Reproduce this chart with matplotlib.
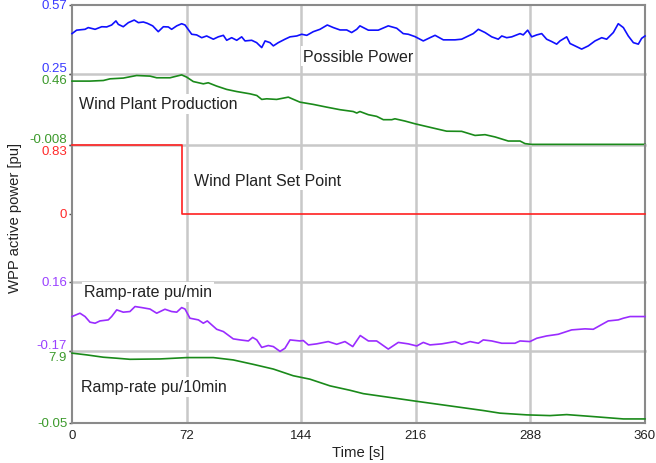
import matplotlib
matplotlib.use("Agg")
import matplotlib.pyplot as plt

plt.rcParams['font.family'] = ['Liberation Sans', 'DejaVu Sans']

# ---- data -------------------------------------------------------------
x_ticks = [0, 72, 144, 216, 288, 360]

possible_t = [0, 2.9, 8.2, 10.2, 14.5, 18.7, 21.8, 24.9, 27.6, 29.1, 32.2, 35.4, 39.1, 41.7,
              44.8, 47.3, 50.7, 54.2, 57.4, 60.5, 62.6, 65.8, 68.9, 71.0, 75.2, 78.3, 81.5,
              84.6, 88.8, 91.9, 95.1, 97.2, 100.3, 103.5, 106.6, 108.7, 112.9, 116.0, 119.2,
              121.3, 124.4, 126.5, 129.6, 133.8, 137.0, 141.2, 144.3, 147.5, 151.6, 155.8,
              160.4, 164.2, 168.4, 172.6, 175.7, 178.9, 180.9, 186.2, 192.4, 198.7, 204.0,
              208.1, 211.3, 215.5, 220.7, 224.9, 228.1, 233.3, 240.6, 244.8, 249.0, 252.1,
              255.3, 259.5, 263.7, 267.8, 270.0, 273.1, 276.3, 279.4, 281.5, 283.5, 286.3,
              288.8, 292.0, 295.1, 298.2, 301.4, 304.5, 306.6, 310.8, 312.9, 316.0, 320.2,
              324.4, 328.6, 332.8, 335.9, 340.1, 343.2, 346.4, 349.5, 352.7, 355.8, 357.9, 360]
possible_v = [0.437, 0.453, 0.457, 0.465, 0.457, 0.469, 0.468, 0.477, 0.496, 0.480, 0.469,
              0.488, 0.500, 0.488, 0.491, 0.485, 0.473, 0.446, 0.469, 0.468, 0.457, 0.473,
              0.483, 0.477, 0.434, 0.431, 0.418, 0.426, 0.411, 0.422, 0.429, 0.406, 0.418,
              0.406, 0.422, 0.403, 0.406, 0.395, 0.372, 0.403, 0.395, 0.380, 0.395, 0.411,
              0.422, 0.426, 0.434, 0.429, 0.446, 0.457, 0.477, 0.465, 0.454, 0.454, 0.442,
              0.457, 0.473, 0.453, 0.453, 0.473, 0.462, 0.437, 0.434, 0.423, 0.403, 0.418,
              0.429, 0.408, 0.408, 0.411, 0.426, 0.437, 0.457, 0.442, 0.422, 0.411, 0.426,
              0.418, 0.422, 0.431, 0.437, 0.431, 0.453, 0.422, 0.431, 0.437, 0.411, 0.400,
              0.388, 0.403, 0.422, 0.391, 0.380, 0.365, 0.380, 0.403, 0.418, 0.411, 0.442,
              0.483, 0.465, 0.426, 0.395, 0.388, 0.415, 0.426]

production_t = [0, 11.3, 19.7, 23.9, 32.2, 40.6, 49.0, 53.2, 61.6, 65.8, 68.9, 72.1, 76.2,
                82.5, 85.6, 90.9, 97.2, 103.5, 111.8, 116.1, 119.2, 122.3, 128.6, 135.9,
                143.2, 151.6, 160.0, 168.4, 176.7, 178.9, 180.9, 186.2, 191.4, 195.6, 200.9,
                202.9, 209.2, 215.5, 226.0, 235.4, 244.8, 253.2, 259.5, 265.8, 274.1, 281.5,
                284.6, 288.4, 360]
production_v = [0.412, 0.412, 0.416, 0.427, 0.432, 0.449, 0.445, 0.434, 0.434, 0.445, 0.453,
                0.438, 0.409, 0.394, 0.401, 0.379, 0.357, 0.343, 0.328, 0.317, 0.291, 0.295,
                0.291, 0.306, 0.273, 0.258, 0.240, 0.223, 0.211, 0.201, 0.211, 0.190, 0.179,
                0.157, 0.157, 0.163, 0.148, 0.130, 0.104, 0.081, 0.080, 0.053, 0.058, 0.043,
                0.016, 0.016, -0.001, -0.006, -0.006]

setpoint_t = [0, 69.3, 69.3, 360]
setpoint_v = [0.83, 0.83, 0.0, 0.0]

ramp1_t = [0, 5.0, 8.2, 11.3, 14.5, 17.6, 22.8, 24.9, 28.1, 32.2, 36.4, 39.6, 43.8, 49.0,
           53.2, 58.4, 62.6, 65.8, 68.9, 71.0, 74.1, 79.4, 82.5, 85.0, 87.8, 90.9, 95.1,
           101.3, 105.6, 110.8, 113.5, 116.1, 119.2, 123.3, 126.5, 130.7, 133.8, 137.0,
           143.2, 145.3, 148.5, 153.7, 161.0, 166.3, 171.5, 176.4, 178.5, 181.1, 186.2,
           191.4, 193.5, 198.7, 205.0, 211.3, 216.6, 220.7, 224.9, 232.3, 240.6, 244.8,
           250.1, 255.3, 258.4, 263.7, 270.0, 278.3, 281.5, 287.7, 292.0, 298.2, 305.5,
           313.9, 322.3, 327.5, 331.7, 336.9, 343.2, 346.4, 350.6, 360]
ramp1_v = [-0.004, 0.012, -0.004, -0.031, -0.036, -0.025, -0.020, -0.004, 0.028, 0.017,
           0.020, 0.044, 0.039, 0.032, 0.012, 0.031, 0.020, 0.017, 0.039, 0.032, -0.012,
           -0.020, -0.036, -0.025, -0.044, -0.065, -0.076, -0.111, -0.116, -0.121, -0.104,
           -0.116, -0.152, -0.143, -0.148, -0.171, -0.156, -0.116, -0.121, -0.119, -0.140,
           -0.135, -0.124, -0.137, -0.124, -0.148, -0.124, -0.095, -0.121, -0.121, -0.132,
           -0.160, -0.128, -0.135, -0.145, -0.128, -0.140, -0.135, -0.124, -0.137, -0.124,
           -0.132, -0.116, -0.121, -0.132, -0.132, -0.121, -0.124, -0.108, -0.097, -0.089,
           -0.068, -0.063, -0.065, -0.047, -0.025, -0.020, -0.012, -0.004, -0.004]

ramp10_t = [0, 9.2, 19.7, 28.1, 36.4, 55.3, 72.1, 88.8, 101.3, 113.9, 126.5, 139.0, 149.5,
            162.1, 174.7, 183.0, 197.7, 216.6, 239.6, 258.4, 268.9, 285.7, 300.3, 310.8,
            327.5, 346.4, 360]
ramp10_v = [7.68, 7.49, 7.23, 7.12, 7.00, 7.04, 7.19, 7.19, 6.93, 6.44, 5.92, 5.18, 4.80,
            4.06, 3.57, 3.20, 2.83, 2.35, 1.79, 1.33, 1.04, 0.85, 0.77, 0.88, 0.66, 0.40, 0.40]

# each strip has its own scale: (bottom, top) limits, two labelled ticks
panels = [
    dict(t=possible_t, v=possible_v, ylim=(0.25, 0.57), ticks=[0.25, 0.57],
         labels=['0.25', '0.57'], va=['bottom', 'center'],
         color='#1010ff', tcolor='#3a3aff', name='Possible Power', pos=(303, 57)),
    dict(t=production_t, v=production_v, ylim=(-0.008, 0.46), ticks=[-0.008, 0.46],
         labels=['-0.008', '0.46'], va=['bottom', 'top'],
         color='#1a8a1a', tcolor='#3c9a2c', name='Wind Plant Production', pos=(79, 105)),
    dict(t=setpoint_t, v=setpoint_v, ylim=(-0.83, 0.83), ticks=[0, 0.83],
         labels=['0', '0.83'], va=['center', 'top'],
         color='#ff2020', tcolor='#ff2a2a', name='Wind Plant Set Point', pos=(194, 181)),
    dict(t=ramp1_t, v=ramp1_v, ylim=(-0.17, 0.16), ticks=[-0.17, 0.16],
         labels=['-0.17', '0.16'], va=['bottom', 'center'],
         color='#9a2cff', tcolor='#9a40ff', name='Ramp-rate pu/min', pos=(84, 293)),
    dict(t=ramp10_t, v=ramp10_v, ylim=(-0.05, 7.9), ticks=[-0.05, 7.9],
         labels=['-0.05', '7.9'], va=['center', 'top'],
         color='#1a8a1a', tcolor='#3c9a2c', name='Ramp-rate pu/10min', pos=(81, 388)),
]

W, H = 656, 464
fig = plt.figure(figsize=(W / 100, H / 100), dpi=100)
left, right, top, bottom = 72, 645, 6, 424
gs = fig.add_gridspec(5, 1, height_ratios=[69, 71, 138, 69, 72], hspace=0,
                      left=left / W, right=right / W, top=1 - top / H, bottom=1 - bottom / H)

frame = '#8a8a8a'
grid = '#c8c8c8'
axes = []
for i, p in enumerate(panels):
    ax = fig.add_subplot(gs[i])
    axes.append(ax)
    ax.patch.set_alpha(0)
    ax.plot(p['t'], p['v'], color=p['color'], lw=1.2, zorder=4, clip_on=False)
    ax.set_xlim(0, 360)
    ax.set_ylim(*p['ylim'])
    ax.set_xticks(x_ticks)
    for xv in x_ticks[1:-1]:
        ax.axvline(xv, color=grid, lw=1.8, zorder=1)
    ax.set_yticks(p['ticks'])
    ax.set_yticklabels(p['labels'])
    for lab, va in zip(ax.get_yticklabels(), p['va']):
        lab.set_color(p['tcolor'])
        lab.set_va(va)
        lab.set_fontsize(9.5)
    ax.tick_params(axis='y', length=2.5, width=1, color='#555555', pad=1)
    for side in ('left', 'right'):
        ax.spines[side].set_color(frame)
        ax.spines[side].set_linewidth(1.5)
    ax.spines['top'].set_visible(i == 0)
    ax.spines['top'].set_color(frame)
    ax.spines['top'].set_linewidth(1.5)
    if i < len(panels) - 1:
        ax.spines['bottom'].set_color(grid)
        ax.spines['bottom'].set_linewidth(1.8)
        ax.tick_params(axis='x', bottom=False, labelbottom=False)
    else:
        ax.spines['bottom'].set_color(frame)
        ax.spines['bottom'].set_linewidth(1.5)
        ax.tick_params(axis='x', length=0, pad=4, labelsize=9.5, labelcolor='#222222')
    px, py = p['pos']
    ax.text(px / W, 1 - py / H, p['name'], transform=fig.transFigure,
            fontsize=11.5, color='#222222', va='center', ha='left', zorder=10,
            bbox=dict(facecolor='white', edgecolor='none', pad=1.5))

axes[-1].set_xlabel('Time [s]', fontsize=10.7, color='#222222', labelpad=3)
fig.text(15 / W, 1 - 218 / H, 'WPP active power [pu]', rotation=90, fontsize=10.7,
         color='#222222', ha='center', va='center')

fig.savefig('out.png', dpi=100)
